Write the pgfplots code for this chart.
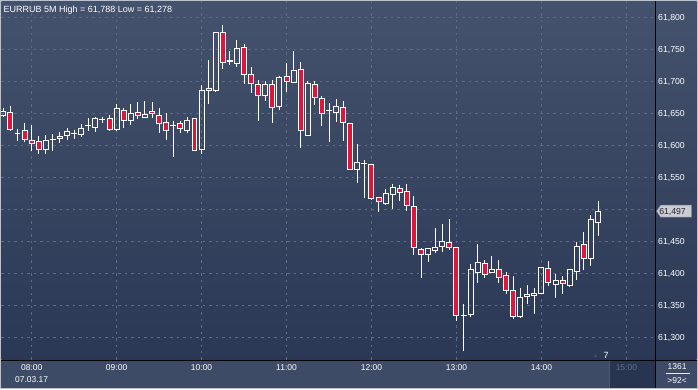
\documentclass[border=0pt]{standalone}
\usepackage{fontspec}
\setmainfont{Liberation Sans}
\usepackage{pgfplots}
\pgfplotsset{compat=1.18}
\usepackage{pgfplotstable}
\definecolor{bgtop}{RGB}{68,82,109}
\definecolor{bgbot}{RGB}{42,56,85}
\definecolor{panel}{RGB}{62,75,103}
\definecolor{gridc}{RGB}{92,106,134}
\definecolor{candlered}{RGB}{222,22,60}
\definecolor{future}{RGB}{40,53,80}
\definecolor{grey15}{RGB}{98,112,138}
\definecolor{frame}{RGB}{188,194,202}
\definecolor{lblbox}{RGB}{200,204,212}
\pgfdeclareplotmark{candle}{}
\newlength\candDC \newlength\candDH \newlength\candDL
\pgfplotstableread{
tt op hi lo cl
-4 61.647 61.658 61.644 61.653
-3 61.652 61.661 61.622 61.625
-2 61.619 61.625 61.607 61.619
-1 61.623 61.635 61.605 61.609
0 61.607 61.632 61.591 61.603
1 61.606 61.614 61.587 61.594
2 61.593 61.616 61.587 61.607
3 61.609 61.618 61.591 61.610
4 61.613 61.621 61.604 61.610
5 61.615 61.627 61.609 61.622
6 61.618 61.624 61.610 61.618
7 61.617 61.634 61.613 61.627
8 61.631 61.643 61.622 61.631
9 61.628 61.645 61.621 61.642
10 61.640 61.645 61.635 61.640
11 61.642 61.647 61.623 61.625
12 61.625 61.664 61.622 61.657
13 61.654 61.659 61.627 61.638
14 61.639 61.665 61.632 61.650
15 61.652 61.667 61.641 61.647
16 61.644 61.669 61.644 61.648
17 61.653 61.668 61.642 61.649
18 61.646 61.659 61.619 61.634
19 61.635 61.650 61.608 61.623
20 61.631 61.638 61.582 61.631
21 61.634 61.638 61.619 61.627
22 61.623 61.645 61.619 61.639
23 61.642 61.643 61.591 61.592
24 61.594 61.695 61.587 61.686
25 61.689 61.734 61.664 61.685
26 61.685 61.776 61.684 61.776
27 61.777 61.788 61.720 61.730
28 61.732 61.747 61.725 61.732
29 61.728 61.764 61.722 61.751
30 61.753 61.758 61.696 61.710
31 61.710 61.722 61.682 61.696
32 61.695 61.702 61.638 61.678
33 61.678 61.700 61.670 61.695
34 61.695 61.702 61.635 61.659
35 61.660 61.708 61.655 61.706
36 61.707 61.728 61.683 61.700
37 61.699 61.748 61.699 61.717
38 61.718 61.730 61.595 61.623
39 61.616 61.700 61.616 61.696
40 61.695 61.700 61.663 61.675
41 61.673 61.677 61.630 61.650
42 61.654 61.666 61.605 61.654
43 61.652 61.672 61.636 61.661
44 61.659 61.670 61.607 61.635
45 61.634 61.634 61.562 61.562
46 61.562 61.602 61.541 61.573
47 61.572 61.577 61.517 61.572
48 61.570 61.571 61.514 61.516
49 61.518 61.519 61.495 61.512
50 61.509 61.531 61.506 61.525
51 61.523 61.539 61.501 61.534
52 61.532 61.538 61.513 61.526
53 61.528 61.539 61.497 61.505
54 61.504 61.520 61.429 61.440
55 61.437 61.439 61.393 61.429
56 61.429 61.440 61.418 61.439
57 61.436 61.470 61.431 61.440
58 61.441 61.477 61.433 61.450
59 61.448 61.485 61.436 61.440
60 61.440 61.440 61.325 61.333
61 61.334 61.352 61.278 61.334
62 61.335 61.414 61.332 61.405
63 61.401 61.445 61.384 61.417
64 61.415 61.421 61.393 61.398
65 61.401 61.427 61.400 61.405
66 61.406 61.420 61.384 61.393
67 61.396 61.402 61.368 61.373
68 61.372 61.395 61.328 61.332
69 61.332 61.376 61.329 61.362
70 61.363 61.381 61.352 61.367
71 61.365 61.377 61.336 61.368
72 61.368 61.409 61.368 61.409
73 61.407 61.419 61.380 61.385
74 61.382 61.398 61.361 61.388
75 61.388 61.396 61.367 61.384
76 61.381 61.405 61.379 61.405
77 61.402 61.449 61.389 61.442
78 61.444 61.465 61.405 61.423
79 61.423 61.491 61.411 61.484
80 61.479 61.513 61.458 61.497
}\candles
\begin{document}
\begin{tikzpicture}[x=1pt,y=1pt]
\fill[frame] (0,0) rectangle (698,389);
\shade[top color=bgtop, bottom color=bgbot] (656,29) rectangle (697,388);
\fill[panel] (1,1) rectangle (697,28.6);
\fill[future] (609.5,1) rectangle (655.5,28.6);
\draw[grey15!80!black, line width=0.8pt] (609.5,1) -- (609.5,28.6);
\begin{axis}[
  at={(1pt,29pt)}, anchor=south west,
  x=7.09pt, y=640pt,
  xmin=-4.26, xmax=88.12, ymin=61.26406, ymax=61.825,
  axis background/.style={top color=bgtop, bottom color=bgbot},
  axis line style={draw=none},
  major tick length=0pt,
  grid=major,
  major grid style={dash pattern=on 2.5pt off 4pt, color=gridc, line width=0.8pt},
  xtick={0,12,24,36,48,60,72,84},
  xticklabels={{08:00\\07.03.17},09:00,10:00,11:00,12:00,13:00,14:00,{\color{grey15}15:00}},
  xticklabel style={anchor=north, inner sep=0pt, yshift=-4.5pt, text=white, align=center,
     font=\fontsize{8.5}{12}\selectfont},
  ytick={61.3,61.35,61.4,61.45,61.5,61.55,61.6,61.65,61.7,61.75,61.8},
  yticklabels={{61,300},{61,350},{61,400},{61,450},{},{61,550},{61,600},{61,650},{61,700},{61,750},{61,800}},
  yticklabel pos=right,
  yticklabel style={anchor=west, inner sep=0pt, xshift=2.5pt, yshift=-0.8pt, text=white,
     font=\fontsize{8.7}{10}\selectfont},
  scaled y ticks=false,
]
\addplot[scatter, only marks, mark=candle,
  visualization depends on={640*(\thisrow{cl}-\thisrow{op}) \as \candC},
  visualization depends on={640*(\thisrow{hi}-\thisrow{op}) \as \candH},
  visualization depends on={640*(\thisrow{lo}-\thisrow{op}) \as \candL},
  scatter/@pre marker code/.code={%
    \pgfmathsetlength\candDC{\candC}%
    \pgfmathsetlength\candDH{\candH}%
    \pgfmathsetlength\candDL{\candL}%
    \ifdim\candDC>0.8pt
      \draw[white, line width=1pt] (0pt,\candDC) -- (0pt,\candDH);
      \draw[white, line width=1pt] (0pt,0pt) -- (0pt,\candDL);
      \draw[white, line width=1pt] (-2.5pt,0pt) rectangle (2.5pt,\candDC);
    \else
      \ifdim\candDC<-0.8pt
        \draw[white, line width=1pt] (0pt,0pt) -- (0pt,\candDH);
        \draw[white, line width=1pt] (0pt,\candDC) -- (0pt,\candDL);
        \draw[white, line width=1pt, fill=candlered] (-2.5pt,0pt) rectangle (2.5pt,\candDC);
      \else
        \draw[white, line width=1pt] (0pt,\candDL) -- (0pt,\candDH);
        \draw[white, line width=1.2pt] (-3pt,0pt) -- (3pt,0pt);
      \fi
    \fi
  },
  scatter/@post marker code/.code={},
] table[x=tt, y=op] {\candles};
\end{axis}
\draw[black, line width=1pt] (656,0) -- (656,389);
\draw[black, line width=1pt] (0,28.8) -- (698,28.8);
\draw[frame, line width=1pt] (0.5,0.5) rectangle (697.5,388.5);
\node[anchor=base west, inner sep=0pt, text=white, font=\fontsize{9}{11}\selectfont] at (3,377) {EURRUB 5M High = 61,788 Low = 61,278};
\fill[grey15!70!black] (594,32) -- (598,32) -- (596,35) -- cycle;
\node[inner sep=0pt, text=white, font=\fontsize{9}{11}\selectfont] at (606.5,34) {7};
\filldraw[fill=lblbox, draw=gray, line width=0.5pt] (657,178) -- (661,184) -- (692,184) -- (692,172) -- (661,172) -- cycle;
\node[anchor=west, inner sep=0pt, text=black!85, font=\fontsize{8.7}{10}\selectfont] at (659.5,177.6) {61,497};
\node[inner sep=0pt, text=white, font=\fontsize{8.5}{10}\selectfont] at (677.5,22) {1361};
\draw[white!85!gray, line width=0.6pt] (666,15.5) -- (690,15.5);
\node[inner sep=0pt, text=white, font=\fontsize{8.5}{10}\selectfont] at (677.5,8.5) {>92<};
\end{tikzpicture}
\end{document}
